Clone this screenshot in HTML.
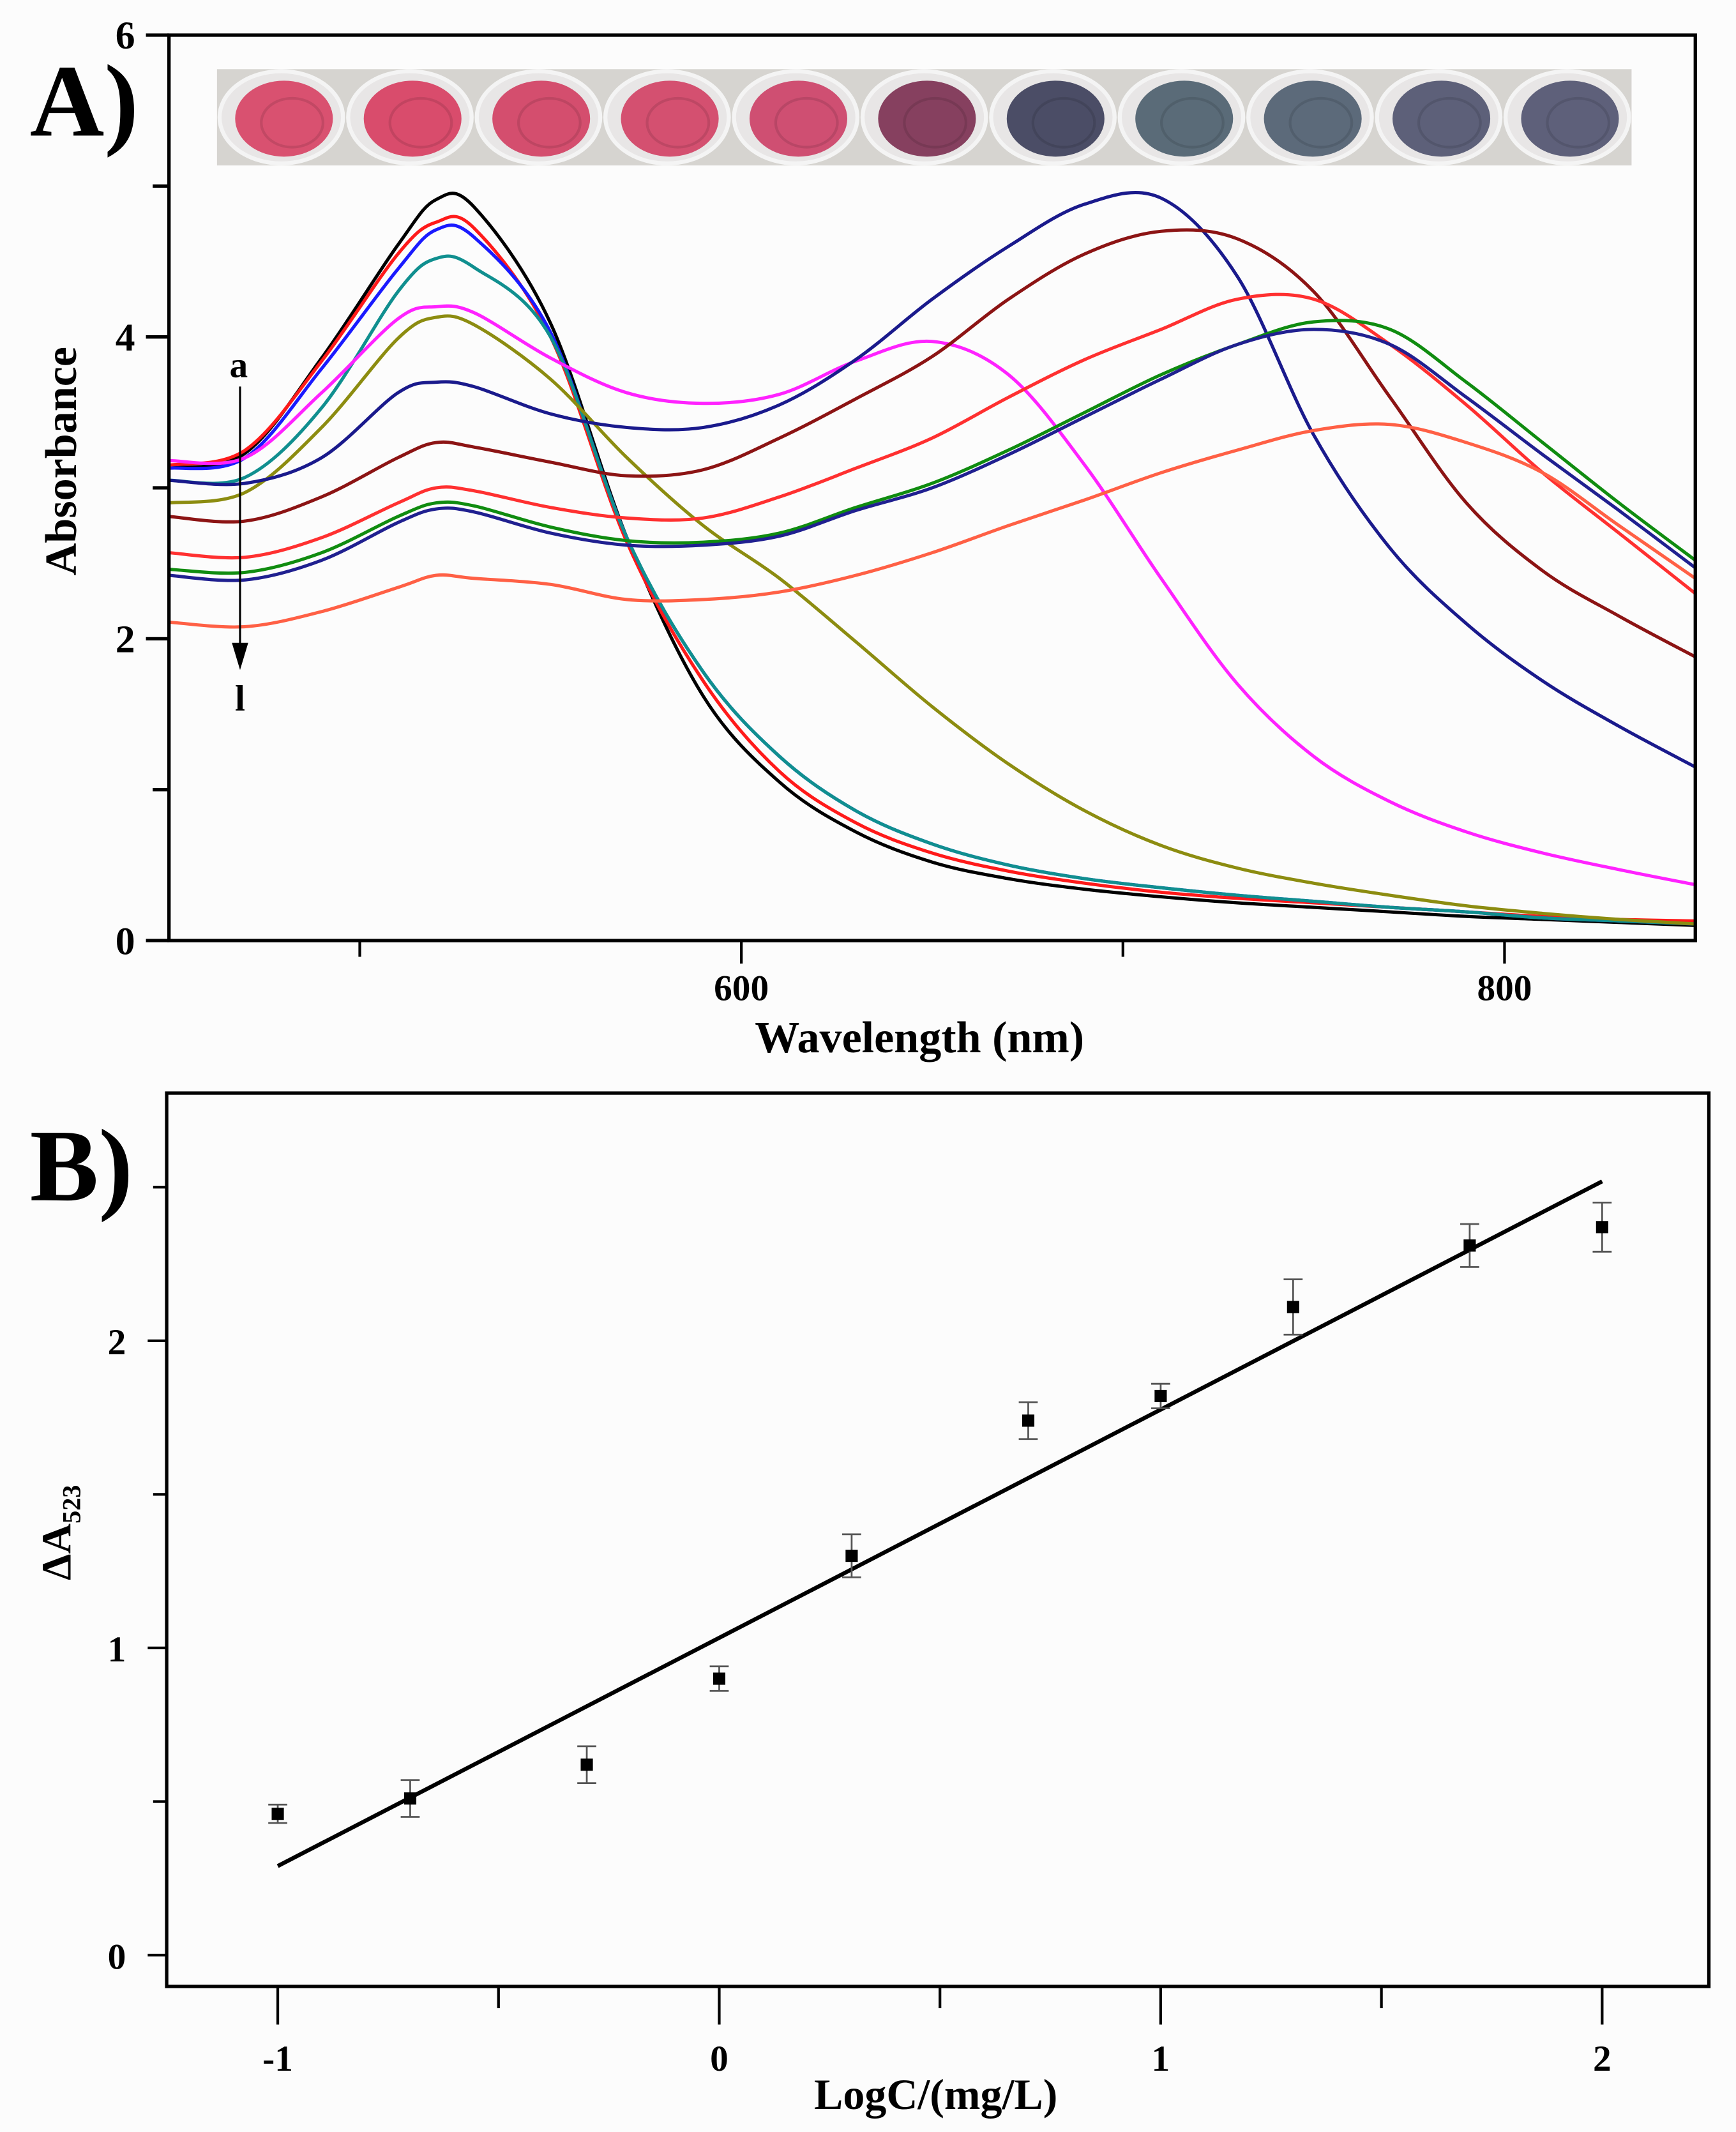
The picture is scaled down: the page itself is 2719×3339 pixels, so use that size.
<!DOCTYPE html>
<html><head><meta charset="utf-8"><style>
html,body{margin:0;padding:0;background:#fff;}
svg{display:block;}
text{font-family:"Liberation Serif",serif;font-weight:bold;fill:#000;}
</style></head><body>
<svg id="fig" width="2719" height="3339" viewBox="0 0 1280 1572" preserveAspectRatio="none" xmlns="http://www.w3.org/2000/svg">
<rect x="0" y="0" width="1280" height="1572" fill="#fcfcfc"/>
<g id="panelA"></g>
<g id="panelB"></g>
</svg>
<script>
const NS="http://www.w3.org/2000/svg";
// ---- Panel A data ----
const wavelengths=[450,470,490,510,520,530,550,570,590,610,630,650,670,690,710,730,750,770,790,810,830,850];
const curveLabels=["a","b","c","d","e","f","g","h","i","j","k","l"];
const curveColors=["#000000","#ff1a1a","#1a1aff","#108f8f","#ff22ff","#8c8c10","#1a1a8c","#8c1414","#ff3030","#108c10","#202090","#ff6045"];
const specA=[3.13,3.23,3.86,4.61,4.91,4.86,4.09,2.67,1.62,1.05,0.72,0.52,0.41,0.34,0.29,0.25,0.22,0.19,0.16,0.14,0.12,0.1];
const specB=[3.15,3.25,3.84,4.55,4.76,4.72,4.0,2.64,1.72,1.12,0.78,0.58,0.46,0.38,0.32,0.28,0.25,0.22,0.19,0.16,0.14,0.13];
const specC=[3.13,3.2,3.79,4.45,4.71,4.66,4.03,2.67,1.78,1.22,0.86,0.64,0.5,0.41,0.35,0.3,0.26,0.22,0.19,0.15,0.13,0.11];
const specD=[3.05,3.07,3.53,4.3,4.52,4.46,4.0,2.67,1.78,1.22,0.86,0.64,0.5,0.41,0.35,0.3,0.26,0.22,0.19,0.15,0.13,0.11];
const specE=[3.18,3.2,3.63,4.12,4.2,4.16,3.86,3.63,3.56,3.62,3.84,3.97,3.75,3.15,2.4,1.7,1.22,0.92,0.72,0.58,0.47,0.37];
const specF=[2.9,2.97,3.4,3.99,4.13,4.08,3.72,3.2,2.75,2.4,1.98,1.55,1.17,0.86,0.63,0.48,0.38,0.3,0.23,0.18,0.14,0.11];
const specG=[3.05,3.03,3.2,3.63,3.7,3.67,3.49,3.4,3.4,3.55,3.85,4.25,4.6,4.88,4.92,4.4,3.35,2.6,2.1,1.72,1.42,1.15];
const specH=[2.81,2.78,2.94,3.2,3.3,3.27,3.17,3.08,3.12,3.33,3.59,3.87,4.25,4.55,4.7,4.65,4.3,3.6,2.9,2.45,2.15,1.88];
const specI=[2.57,2.54,2.67,2.9,3.0,2.98,2.87,2.8,2.8,2.94,3.13,3.33,3.6,3.85,4.05,4.25,4.25,3.95,3.55,3.1,2.7,2.3];
const specJ=[2.46,2.44,2.57,2.81,2.9,2.88,2.74,2.65,2.64,2.7,2.87,3.03,3.25,3.5,3.75,3.95,4.1,4.05,3.7,3.3,2.9,2.52];
const specK=[2.42,2.39,2.52,2.77,2.86,2.84,2.7,2.62,2.62,2.68,2.85,3.0,3.22,3.47,3.72,3.95,4.05,3.95,3.6,3.22,2.85,2.47];
const specL=[2.11,2.08,2.18,2.34,2.42,2.4,2.36,2.26,2.26,2.31,2.42,2.57,2.75,2.92,3.1,3.25,3.38,3.42,3.3,3.1,2.75,2.4];
const spectra=[specA,specB,specC,specD,specE,specF,specG,specH,specI,specJ,specK,specL];
const aXTicks=[500,600,700,800];
const aXTickLabels=["","600","","800"];
const aYTicks=[0,1,2,3,4,5,6];
const aYTickLabels=["0","","2","","4","","6"];
const wellColors=["#d95170","#d94c6c","#d44e6e","#d45070","#cf4f72","#86405f","#4b4d66","#5a6b78","#5c6a7a","#5d6079","#5e607a"];
// ---- Panel B data ----
const logC=[-1,-0.7,-0.3,0,0.3,0.7,1,1.3,1.7,2];
const deltaA=[0.46,0.51,0.62,0.9,1.3,1.74,1.82,2.11,2.31,2.37];
const errA=[0.03,0.06,0.06,0.04,0.07,0.06,0.04,0.09,0.07,0.08];
const fitSlope=0.743;
const fitIntercept=1.033;
const bXTicks=[-1,-0.5,0,0.5,1,1.5,2];
const bXTickLabels=["-1","","0","","1","","2"];
const bYTicks=[0,0.5,1,1.5,2,2.5];
const bYTickLabels=["0","","1","","2",""];

function el(tag,attrs,parent){const e=document.createElementNS(NS,tag);for(const k in attrs)e.setAttribute(k,attrs[k]);parent.appendChild(e);return e;}
function smoothPath(pts){let d="M"+pts[0][0].toFixed(2)+","+pts[0][1].toFixed(2);
 for(let i=0;i<pts.length-1;i++){const p0=pts[Math.max(0,i-1)],p1=pts[i],p2=pts[i+1],p3=pts[Math.min(pts.length-1,i+2)];
  const c1=[p1[0]+(p2[0]-p0[0])/6,p1[1]+(p2[1]-p0[1])/6],c2=[p2[0]-(p3[0]-p1[0])/6,p2[1]-(p3[1]-p1[1])/6];
  d+="C"+c1[0].toFixed(2)+","+c1[1].toFixed(2)+" "+c2[0].toFixed(2)+","+c2[1].toFixed(2)+" "+p2[0].toFixed(2)+","+p2[1].toFixed(2);}
 return d;}

// Panel A
const A=document.getElementById("panelA");
const aL=124.6,aR=1250,aT=25.9,aB=693.5;
const ax=w=>aL+(w-450)*(aR-aL)/400;
const ay=v=>aB-v*(aB-aT)/6;
const strip=el("g",{},A);


el("rect",{x:160,y:51,width:1043,height:71,fill:"#d6d4d0"},strip);
const wellW=1043/wellColors.length;
wellColors.forEach((c,i)=>{const cx=160+wellW*(i+0.5),cy=86.5;
 const w=el("g",{},strip);
 
 
 el("ellipse",{cx:cx,cy:cy,rx:wellW*0.48,ry:34,fill:"#e8e6e6",stroke:"#f4f4f4","stroke-width":3},w);
 el("ellipse",{cx:cx+2,cy:cy+1,rx:wellW*0.38,ry:28,fill:c},w);
 el("ellipse",{cx:cx+8,cy:cy+4,rx:wellW*0.24,ry:18,fill:c,opacity:0.85,stroke:"rgba(0,0,0,0.12)","stroke-width":2},w);
});
spectra.forEach((s,i)=>{const pts=wavelengths.map((w,j)=>[ax(w),ay(s[j])]);
 const p=el("path",{d:smoothPath(pts),fill:"none",stroke:curveColors[i],"stroke-width":2.4,"stroke-linejoin":"round"},A);
 
 
});
const fa=el("rect",{x:aL,y:aT,width:aR-aL,height:aB-aT,fill:"none",stroke:"#000","stroke-width":2.5},A);


aYTicks.forEach((v,i)=>{const y=ay(v),major=aYTickLabels[i]!=="";
 const t=el("line",{x1:aL-(major?17:12),x2:aL,y1:y,y2:y,stroke:"#000","stroke-width":2.5},A);
 
 
 if(major){const tx=el("text",{x:aL-25,y:y+10,"font-size":29,"text-anchor":"end"},A);tx.textContent=aYTickLabels[i];
  
  }
});
aXTicks.forEach((v,i)=>{const x=ax(v),major=aXTickLabels[i]!=="";
 const t=el("line",{x1:x,x2:x,y1:aB,y2:aB+(major?17:12),stroke:"#000","stroke-width":2},A);
 
 
 if(major){const tx=el("text",{x:x,y:aB+44,"font-size":27,"text-anchor":"middle"},A);tx.textContent=aXTickLabels[i];
  
  }
});
let t;
t=el("text",{x:678,y:776,"font-size":33,"text-anchor":"middle"},A);t.textContent="Wavelength (nm)";


t=el("text",{x:0,y:0,"font-size":33,"text-anchor":"middle",transform:"translate(56,340) rotate(-90)"},A);t.textContent="Absorbance";


t=el("text",{x:22,y:100,"font-size":76},A);t.textContent="A)";


t=el("text",{x:176,y:278,"font-size":27,"text-anchor":"middle"},A);t.textContent="a";


t=el("line",{x1:177,x2:177,y1:285,y2:478,stroke:"#000","stroke-width":1.5},A);


el("polygon",{points:"171,474 183,474 177,494",fill:"#000"},A);
t=el("text",{x:177,y:524,"font-size":27,"text-anchor":"middle"},A);t.textContent="l";



// Panel B
const B=document.getElementById("panelB");
const bL=122.9,bR=1260,bT=806,bB=1464.7;
const bx=v=>204.8+(v+1)*325.5;
const by=v=>1441.6-v*226.5;
const fb=el("rect",{x:bL,y:bT,width:bR-bL,height:bB-bT,fill:"none",stroke:"#000","stroke-width":2.5},B);


bYTicks.forEach((v,i)=>{const y=by(v),major=bYTickLabels[i]!=="";
 const tk=el("line",{x1:bL-(major?14:10),x2:bL,y1:y,y2:y,stroke:"#000","stroke-width":2},B);
 
 
 if(major){const tx=el("text",{x:bL-30,y:y+10,"font-size":27,"text-anchor":"end"},B);tx.textContent=bYTickLabels[i];
  
  }
});
bXTicks.forEach((v,i)=>{const x=bx(v),major=bXTickLabels[i]!=="";
 const tk=el("line",{x1:x,x2:x,y1:bB,y2:bB+(major?28:16),stroke:"#000","stroke-width":2},B);
 
 
 if(major){const tx=el("text",{x:x,y:bB+62,"font-size":27,"text-anchor":"middle"},B);tx.textContent=bXTickLabels[i];
  
  }
});
const fit=el("line",{x1:bx(-1),y1:by(fitIntercept+fitSlope*-1),x2:bx(2),y2:by(fitIntercept+fitSlope*2),stroke:"#000","stroke-width":3},B);


logC.forEach((c,i)=>{const x=bx(c),y=by(deltaA[i]),e=errA[i];
 const g=el("g",{},B);
 
 
 el("line",{x1:x,x2:x,y1:by(deltaA[i]+e),y2:by(deltaA[i]-e),stroke:"#555","stroke-width":1.3},g);
 el("line",{x1:x-7,x2:x+7,y1:by(deltaA[i]+e),y2:by(deltaA[i]+e),stroke:"#555","stroke-width":1.3},g);
 el("line",{x1:x-7,x2:x+7,y1:by(deltaA[i]-e),y2:by(deltaA[i]-e),stroke:"#555","stroke-width":1.3},g);
 el("rect",{x:x-4.5,y:y-4.5,width:9,height:9,fill:"#000"},g);
});
t=el("text",{x:690,y:1555,"font-size":32,"text-anchor":"middle"},B);t.textContent="LogC/(mg/L)";


t=el("text",{x:0,y:0,"font-size":31,"text-anchor":"middle",transform:"translate(52,1130) rotate(-90)"},B);
t.innerHTML='ΔA<tspan font-size="19" dy="7">523</tspan>';


t=el("text",{x:22,y:885,"font-size":76},B);t.textContent="B)";


</script>
</body></html>
